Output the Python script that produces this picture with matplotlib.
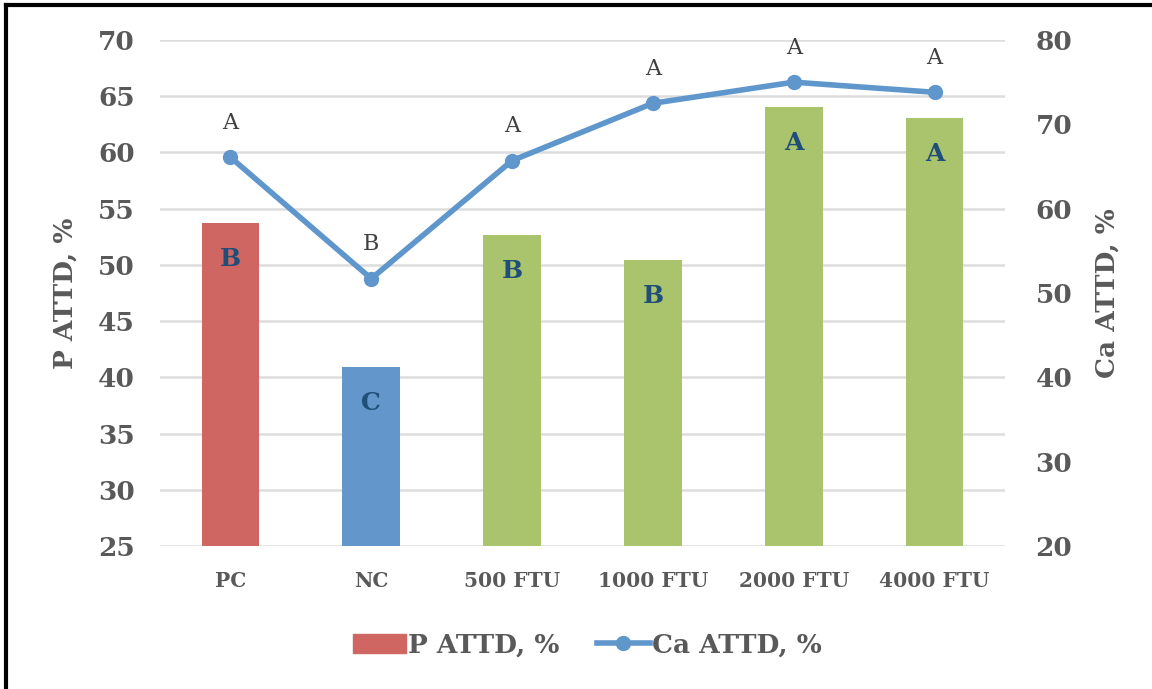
import numpy as np
import matplotlib
matplotlib.use('Agg')
import matplotlib.pyplot as plt
from matplotlib.lines import Line2D

# data
categories = ['PC', 'NC', '500 FTU', '1000 FTU', '2000 FTU', '4000 FTU']
pAttd = [53.7, 40.9, 52.7, 50.4, 64.0, 63.1]
caAttd = [66.1, 51.7, 65.7, 72.5, 75.0, 73.8]
pLetters = ['B', 'C', 'B', 'B', 'A', 'A']
caLetters = ['A', 'B', 'A', 'A', 'A', 'A']

barColors = ['#CF6661', '#6397CB', '#AAC46D', '#AAC46D', '#AAC46D', '#AAC46D']
lineColor = '#5F96CB'
textGray = '#595959'
letterBlue = '#1F4E79'

plt.rcParams['font.family'] = ['DejaVu Serif']
plt.rcParams['font.weight'] = 'bold'

fig = plt.figure(figsize=(11.52, 6.89), dpi=100)
ax = fig.add_axes([160/1152, 1-546/689, 845/1152, 506/689])
ax2 = ax.twinx()

x = np.arange(len(categories))

# bars on left axis
ax.bar(x, pAttd, width=0.41, color=barColors, zorder=2)
ax.set_ylim(25, 70)
ax.set_yticks(np.arange(25, 71, 5))
ax.set_xlim(-0.5, len(categories)-0.5)
ax.grid(axis='y', color='#DDDDDD', linewidth=1.8, zorder=0)
ax.set_axisbelow(True)
for i, v in enumerate(pAttd):
    ax.text(x[i], v-3.2, pLetters[i], ha='center', va='center',
            color=letterBlue, fontsize=18, fontweight='bold', zorder=4)

# line on right axis
ax2.plot(x, caAttd, color=lineColor, linewidth=4, marker='o', markersize=10, zorder=3)
ax2.set_ylim(20, 80)
ax2.set_yticks(np.arange(20, 81, 10))
for i, v in enumerate(caAttd):
    ax2.text(x[i], v+4.1, caLetters[i], ha='center', va='center',
             color='#404040', fontsize=16, fontweight='normal')

for a in (ax, ax2):
    for s in a.spines.values():
        s.set_visible(False)
    a.tick_params(length=0, labelsize=19, labelcolor=textGray)

ax.set_xticks(x)
ax.set_xticklabels(categories, fontsize=14.5, color=textGray, fontweight='bold')
ax.tick_params(axis='x', pad=18)
ax.tick_params(axis='y', pad=18)
ax2.tick_params(axis='y', pad=22)

ax.set_ylabel('P ATTD, %', fontsize=19, color=textGray, fontweight='bold', labelpad=15)
ax2.set_ylabel('Ca ATTD, %', fontsize=19, color=textGray, fontweight='bold', labelpad=16)

# legend
handles = [plt.Rectangle((0, 0), 1, 1, color=barColors[0]),
           Line2D([0], [0], color=lineColor, linewidth=4, marker='o', markersize=10)]
fig.legend(handles, ['P ATTD, %', 'Ca ATTD, %'], loc='center', bbox_to_anchor=(0.51, 1-645/689),
           ncol=2, frameon=False, fontsize=19, handlelength=2.0, handletextpad=0.1,
           columnspacing=1.4, labelcolor=textGray)

# frame around the chart (cut at right and bottom)
fig.add_artist(Line2D([6/1152, 1], [1-5/689, 1-5/689], color='black', linewidth=3,
                      transform=fig.transFigure))
fig.add_artist(Line2D([6/1152, 6/1152], [0, 1-5/689], color='black', linewidth=3,
                      transform=fig.transFigure))

fig.savefig('out.png', dpi=100)
